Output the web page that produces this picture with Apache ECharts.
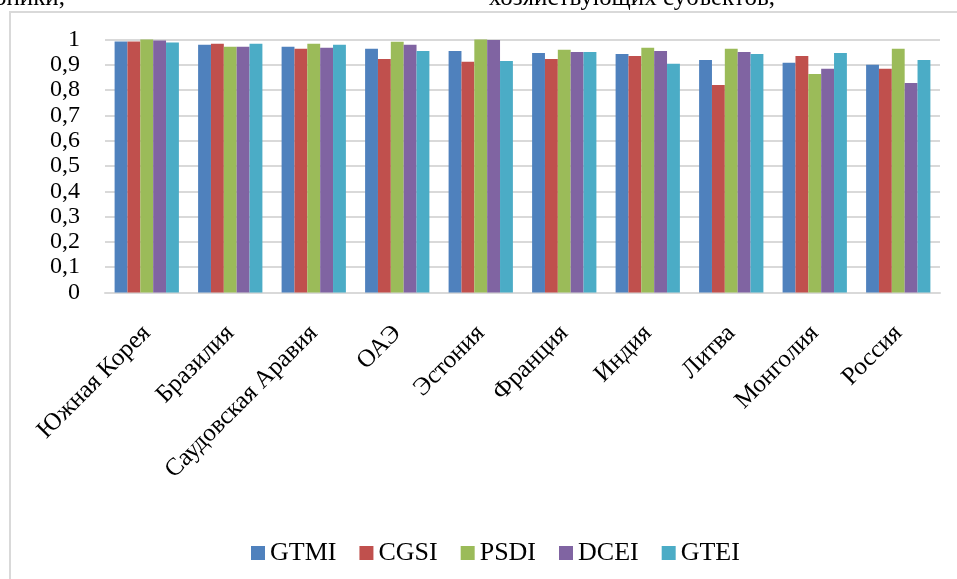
<!DOCTYPE html>
<html>
<head>
<meta charset="utf-8">
<script src="https://cdn.jsdelivr.net/npm/echarts@6/dist/echarts.min.js"></script>
<style>
  html, body { margin: 0; padding: 0; background: #fff; }
  #chart { width: 957px; height: 579px; }
</style>
</head>
<body>
<div id="chart"></div>
<script>
var countries = ['Южная Корея', 'Бразилия', 'Саудовская Аравия', 'ОАЭ', 'Эстония',
  'Франция', 'Индия', 'Литва', 'Монголия', 'Россия'];
var gtmi = [0.992, 0.979, 0.971, 0.963, 0.955, 0.947, 0.943, 0.919, 0.908, 0.900];
var cgsi = [0.992, 0.983, 0.963, 0.923, 0.912, 0.923, 0.935, 0.820, 0.935, 0.884];
var psdi = [1.000, 0.971, 0.983, 0.991, 1.000, 0.959, 0.967, 0.963, 0.864, 0.963];
var dcei = [0.996, 0.971, 0.967, 0.979, 0.998, 0.951, 0.955, 0.951, 0.884, 0.828];
var gtei = [0.988, 0.983, 0.979, 0.955, 0.915, 0.951, 0.904, 0.943, 0.947, 0.919];

var names = ['GTMI', 'CGSI', 'PSDI', 'DCEI', 'GTEI'];
var colors = ['#4f81bd', '#c0504d', '#9bbb59', '#8064a2', '#4bacc6'];
var values = [gtmi, cgsi, psdi, dcei, gtei];

var font = 'Liberation Serif';

var chart = echarts.init(document.getElementById('chart'), null, { renderer: 'canvas' });
chart.setOption({
  animation: false,
  textStyle: { fontFamily: font },
  graphic: [
    { type: 'rect', shape: { x: 10, y: 12, width: 1000, height: 600 },
      style: { fill: 'none', stroke: '#d9d9d9', lineWidth: 2 }, z: -1 },
    { type: 'text', right: 892, top: -14,
      style: { text: 'электроники,', font: '25px "Liberation Serif"', fill: '#000' } },
    { type: 'text', right: 182, top: -14,
      style: { text: 'хозяйствующих субъектов,', font: '25px "Liberation Serif"', fill: '#000' } }
  ],
  legend: {
    top: 535,
    left: 246,
    itemWidth: 14,
    itemHeight: 14,
    itemGap: 23,
    icon: 'rect',
    textStyle: { fontFamily: font, fontSize: 26, color: '#000' },
    data: names
  },
  grid: { left: 105, right: 17, top: 39.5, bottom: 286.5 },
  xAxis: {
    type: 'category',
    data: countries,
    axisLine: { lineStyle: { color: '#d9d9d9', width: 2 } },
    axisTick: { show: false },
    axisLabel: { rotate: 45, margin: 37, interval: 0, fontFamily: font, fontSize: 25, color: '#000' }
  },
  yAxis: {
    type: 'value',
    min: 0, max: 1, interval: 0.1,
    axisLine: { show: false },
    axisTick: { show: false },
    splitLine: { lineStyle: { color: '#d9d9d9', width: 2 } },
    axisLabel: {
      margin: 25, fontFamily: font, fontSize: 24, color: '#000',
      formatter: function(v) { return String(Math.round(v * 10) / 10).replace('.', ','); }
    }
  },
  series: names.map(function(n, i) {
    return {
      name: n, type: 'bar', data: values[i],
      barGap: '0%', barCategoryGap: '23%',
      itemStyle: { color: colors[i] }
    };
  })
});
</script>
</body>
</html>
